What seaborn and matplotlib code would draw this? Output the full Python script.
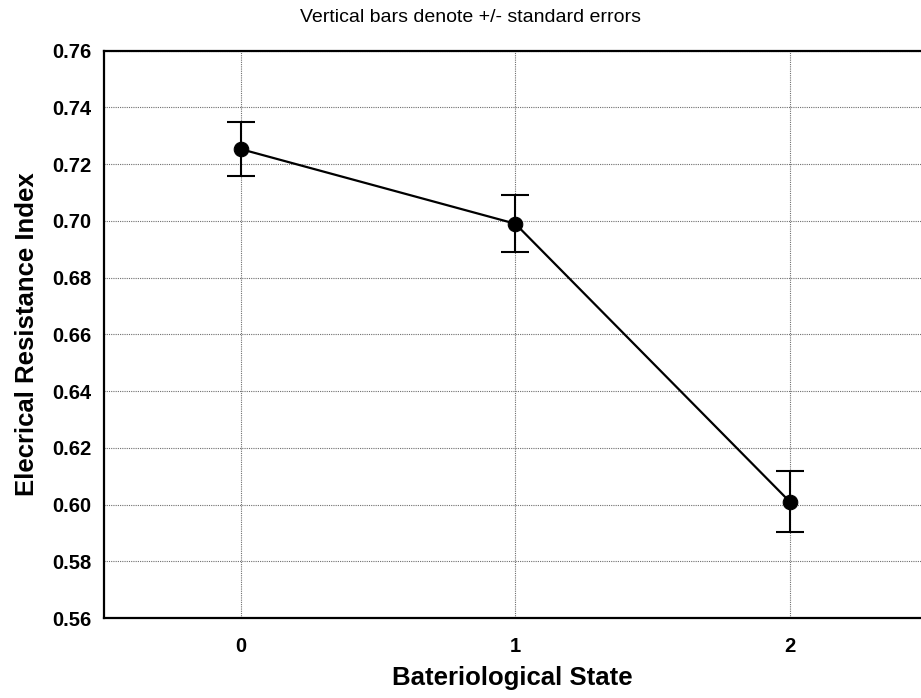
import matplotlib
matplotlib.use("Agg")
import matplotlib.pyplot as plt
import seaborn as sns
import pandas as pd

# Group means and standard errors of the electrical resistance index
states = [0, 1, 2]
means = [0.7253, 0.6990, 0.6010]
std_errors = [0.0094, 0.0100, 0.0108]
y_ticks = [0.56, 0.58, 0.60, 0.62, 0.64, 0.66, 0.68, 0.70, 0.72, 0.74, 0.76]

df = pd.DataFrame({"state": states, "mean": means, "se": std_errors})

sns.set_style("white")
plt.rcParams["font.family"] = ["Liberation Sans", "DejaVu Sans"]
plt.rcParams["text.color"] = "black"
plt.rcParams["axes.labelcolor"] = "black"
plt.rcParams["xtick.color"] = "black"
plt.rcParams["ytick.color"] = "black"

fig = plt.figure(figsize=(9.21, 6.98), dpi=100)
ax = fig.add_axes([0.1124, 0.1146, 0.8876, 0.8128])

ax.grid(True, color="#6e6e6e", linestyle=(0, (1, 1)), linewidth=0.8, zorder=0)
ax.set_axisbelow(True)

ax.errorbar(df["state"], df["mean"], yerr=df["se"], fmt="none",
            ecolor="black", elinewidth=1.5, capsize=10, capthick=1.5, zorder=3)
sns.lineplot(data=df, x="state", y="mean", ax=ax, color="black", linewidth=1.6,
             marker="o", markersize=10.5, markeredgecolor="black",
             markerfacecolor="black", zorder=4)

ax.set_xlim(-0.5, 2.478)
ax.set_ylim(0.56, 0.76)
ax.set_xticks(states)
ax.set_xticklabels([str(s) for s in states])
ax.set_yticks(y_ticks)
ax.set_yticklabels([f"{t:.2f}" for t in y_ticks])

ax.tick_params(axis="both", direction="in", length=3, width=1.2, colors="black",
               labelsize=14.5)
ax.tick_params(axis="x", pad=14)
ax.tick_params(axis="y", pad=9)
for lbl in ax.get_xticklabels() + ax.get_yticklabels():
    lbl.set_fontweight("bold")

for side in ("left", "bottom", "top"):
    ax.spines[side].set_visible(True)
    ax.spines[side].set_color("black")
    ax.spines[side].set_linewidth(1.6)
ax.spines["right"].set_visible(False)

ax.set_xlabel("Bateriological State", fontsize=18.5, fontweight="bold",
              labelpad=7, color="black")
ax.set_ylabel("Elecrical Resistance Index", fontsize=18.5, fontweight="bold",
              labelpad=9, color="black")

fig.text(0.511, 0.975, "Vertical bars denote +/- standard errors",
         ha="center", va="center", fontsize=14, color="black")

fig.savefig("out.png", dpi=100, facecolor="white")
